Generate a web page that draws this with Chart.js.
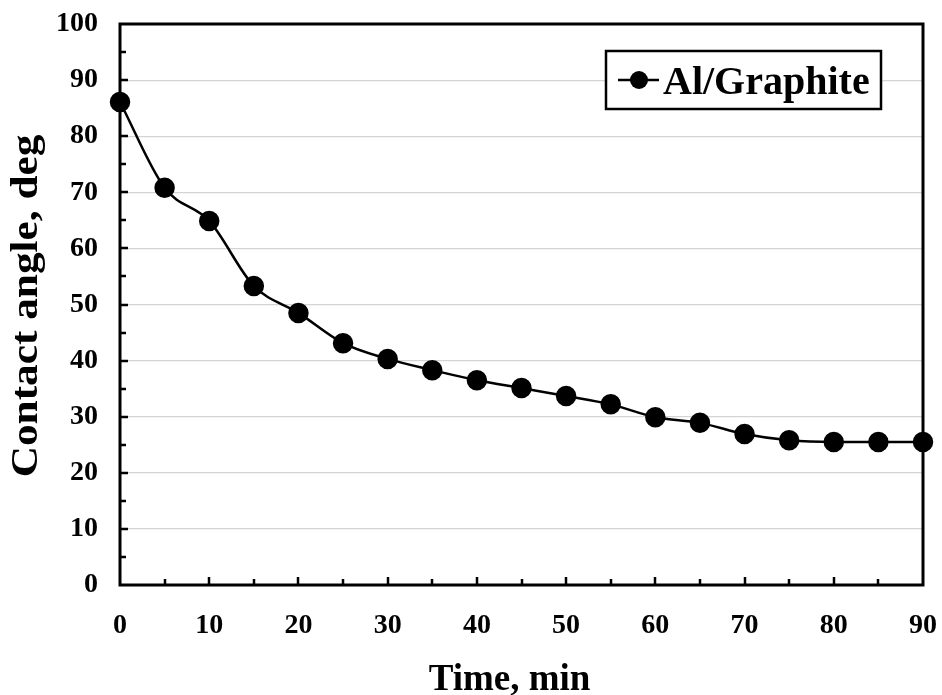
<!DOCTYPE html>
<html>
<head>
<meta charset="utf-8">
<script src="https://cdn.jsdelivr.net/npm/chart.js@4"></script>
<style>
  html, body { margin: 0; padding: 0; background: #fff; }
  #wrap { width: 942px; height: 695px; }
</style>
</head>
<body>
<div id="wrap"><canvas id="chart-contact-angle"></canvas></div>
<script>
const TIME_MIN = [0, 5, 10, 15, 20, 25, 30, 35, 40, 45, 50, 55, 60, 65, 70, 75, 80, 85, 90];
const CONTACT_ANGLE = [86.1, 70.8, 64.9, 53.3, 48.5, 43.1, 40.3, 38.3, 36.5, 35.1, 33.7, 32.2, 29.9, 28.9, 26.9, 25.8, 25.5, 25.5, 25.5];
const SERIES_LABEL = "Al/Graphite";
const X_TITLE = "Time, min";
const Y_TITLE = "Contact angle, deg";

const FONT = "'Liberation Serif', 'Times New Roman', serif";

// frame, inward ticks, axis titles and boxed legend
const framePlugin = {
	id: "frame",
	afterDraw(chart) {
		const { ctx, chartArea: a, scales } = chart;
		ctx.save();
		ctx.strokeStyle = "#000";
		ctx.fillStyle = "#000";
		ctx.lineWidth = 2.5;
		ctx.beginPath();
		for (let v = 5; v < 100; v += 5) {
			const y = Math.round(scales.y.getPixelForValue(v));
			ctx.moveTo(a.left, y);
			ctx.lineTo(a.left + (v % 10 === 0 ? 8 : 6), y);
		}
		for (let v = 5; v < 90; v += 5) {
			const x = Math.round(scales.x.getPixelForValue(v));
			ctx.moveTo(x, a.bottom);
			ctx.lineTo(x, a.bottom - (v % 10 === 0 ? 8 : 6));
		}
		ctx.stroke();
		ctx.lineWidth = 3;
		ctx.strokeRect(a.left, a.top, a.right - a.left, a.bottom - a.top);

		// titles
		ctx.font = "bold 37px " + FONT;
		ctx.textAlign = "center";
		ctx.textBaseline = "alphabetic";
		ctx.fillText(X_TITLE, (a.left + a.right) / 2 - 12, 690);
		ctx.save();
		ctx.translate(37, 306);
		ctx.rotate(-Math.PI / 2);
		ctx.scale(1.17, 1);
		ctx.fillText(Y_TITLE, 0, 0);
		ctx.restore();

		// legend
		const bx = 606, by = 51, bw = 275, bh = 58, cy = by + bh / 2;
		ctx.fillStyle = "#fff";
		ctx.fillRect(bx, by, bw, bh);
		ctx.lineWidth = 2.5;
		ctx.strokeRect(bx, by, bw, bh);
		ctx.beginPath();
		ctx.moveTo(618, cy);
		ctx.lineTo(659, cy);
		ctx.stroke();
		ctx.fillStyle = "#000";
		ctx.beginPath();
		ctx.arc(639, cy, 9, 0, Math.PI * 2);
		ctx.fill();
		ctx.font = "bold 40px " + FONT;
		ctx.textAlign = "left";
		ctx.fillText(SERIES_LABEL, 663, cy + 14);
		ctx.restore();
	},
};

new Chart(document.getElementById("chart-contact-angle"), {
	type: "line",
	data: {
		datasets: [
			{
				label: SERIES_LABEL,
				data: TIME_MIN.map((t, i) => ({ x: t, y: CONTACT_ANGLE[i] })),
				borderColor: "#000",
				backgroundColor: "#000",
				borderWidth: 2.5,
				pointRadius: 9,
				pointHoverRadius: 9,
				cubicInterpolationMode: "monotone",
				clip: false,
			},
		],
	},
	options: {
		responsive: true,
		maintainAspectRatio: false,
		animation: false,
		layout: { padding: { left: 0, right: 19, top: 24, bottom: 0 } },
		plugins: {
			legend: { display: false },
			tooltip: { enabled: false },
		},
		scales: {
			x: {
				type: "linear",
				min: 0,
				max: 90,
				afterFit: (scale) => {
					scale.height = 110;
					scale.paddingLeft = 0;
					scale.paddingRight = 0;
				},
				border: { display: false },
				grid: { display: false, drawTicks: false },
				ticks: {
					stepSize: 10,
					color: "#000",
					padding: 24,
					maxRotation: 0,
					font: { family: FONT, size: 28, weight: "bold" },
				},
			},
			y: {
				min: 0,
				max: 100,
				afterFit: (scale) => {
					scale.width = 120;
					scale.paddingTop = 0;
					scale.paddingBottom = 0;
				},
				border: { display: false },
				grid: { color: "#d4d4d4", lineWidth: 1.2, drawTicks: false },
				ticks: {
					stepSize: 5,
					color: "#000",
					padding: 22,
					font: { family: FONT, size: 28, weight: "bold" },
					callback: (v) => (v % 10 === 0 ? v : ""),
				},
			},
		},
	},
	plugins: [framePlugin],
});
</script>
</body>
</html>
